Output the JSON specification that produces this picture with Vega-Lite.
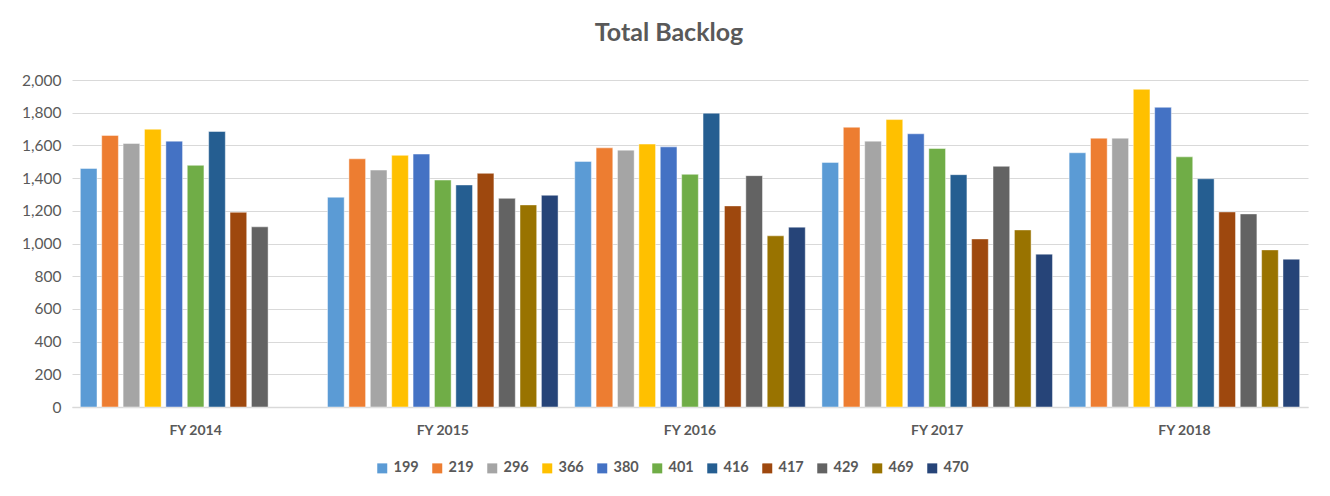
{
  "$schema": "https://vega.github.io/schema/vega-lite/v6.json",
  "width": 1236,
  "height": 327,
  "autosize": {"type": "none"},
  "padding": {"left": 72, "top": 80, "right": 22, "bottom": 89},
  "background": "white",
  "title": {
    "text": "Total Backlog",
    "font": "Lato",
    "fontSize": 25,
    "fontWeight": "bold",
    "color": "#595959",
    "offset": 27,
    "dx": -21
  },
  "data": {
    "values": [
      {"year": "FY 2014", "series": "199", "value": 1459},
      {"year": "FY 2014", "series": "219", "value": 1661},
      {"year": "FY 2014", "series": "296", "value": 1612},
      {"year": "FY 2014", "series": "366", "value": 1699},
      {"year": "FY 2014", "series": "380", "value": 1626},
      {"year": "FY 2014", "series": "401", "value": 1478},
      {"year": "FY 2014", "series": "416", "value": 1685},
      {"year": "FY 2014", "series": "417", "value": 1191},
      {"year": "FY 2014", "series": "429", "value": 1102},
      {"year": "FY 2015", "series": "199", "value": 1283},
      {"year": "FY 2015", "series": "219", "value": 1518},
      {"year": "FY 2015", "series": "296", "value": 1449},
      {"year": "FY 2015", "series": "366", "value": 1539},
      {"year": "FY 2015", "series": "380", "value": 1547},
      {"year": "FY 2015", "series": "401", "value": 1388},
      {"year": "FY 2015", "series": "416", "value": 1358},
      {"year": "FY 2015", "series": "417", "value": 1429},
      {"year": "FY 2015", "series": "429", "value": 1276},
      {"year": "FY 2015", "series": "469", "value": 1236},
      {"year": "FY 2015", "series": "470", "value": 1295},
      {"year": "FY 2016", "series": "199", "value": 1502},
      {"year": "FY 2016", "series": "219", "value": 1585},
      {"year": "FY 2016", "series": "296", "value": 1571},
      {"year": "FY 2016", "series": "366", "value": 1608},
      {"year": "FY 2016", "series": "380", "value": 1591},
      {"year": "FY 2016", "series": "401", "value": 1423},
      {"year": "FY 2016", "series": "416", "value": 1797},
      {"year": "FY 2016", "series": "417", "value": 1230},
      {"year": "FY 2016", "series": "429", "value": 1415},
      {"year": "FY 2016", "series": "469", "value": 1047},
      {"year": "FY 2016", "series": "470", "value": 1100},
      {"year": "FY 2017", "series": "199", "value": 1496},
      {"year": "FY 2017", "series": "219", "value": 1711},
      {"year": "FY 2017", "series": "296", "value": 1626},
      {"year": "FY 2017", "series": "366", "value": 1758},
      {"year": "FY 2017", "series": "380", "value": 1671},
      {"year": "FY 2017", "series": "401", "value": 1581},
      {"year": "FY 2017", "series": "416", "value": 1421},
      {"year": "FY 2017", "series": "417", "value": 1028},
      {"year": "FY 2017", "series": "429", "value": 1472},
      {"year": "FY 2017", "series": "469", "value": 1083},
      {"year": "FY 2017", "series": "470", "value": 935},
      {"year": "FY 2018", "series": "199", "value": 1555},
      {"year": "FY 2018", "series": "219", "value": 1644},
      {"year": "FY 2018", "series": "296", "value": 1644},
      {"year": "FY 2018", "series": "366", "value": 1943},
      {"year": "FY 2018", "series": "380", "value": 1833},
      {"year": "FY 2018", "series": "401", "value": 1530},
      {"year": "FY 2018", "series": "416", "value": 1396},
      {"year": "FY 2018", "series": "417", "value": 1193},
      {"year": "FY 2018", "series": "429", "value": 1181},
      {"year": "FY 2018", "series": "469", "value": 961},
      {"year": "FY 2018", "series": "470", "value": 904}
    ]
  },
  "mark": {"type": "bar", "stroke": "white", "strokeWidth": 0.75, "strokeOpacity": 0.6},
  "encoding": {
    "x": {
      "field": "year",
      "type": "nominal",
      "title": null,
      "scale": {"paddingInner": 0.05, "paddingOuter": 0.025},
      "axis": {
        "labelAngle": 0,
        "labelFont": "Lato",
        "labelFontSize": 14,
        "labelFontWeight": "bold",
        "labelColor": "#595959",
        "labelPadding": 16,
        "ticks": false,
        "domainColor": "#D9D9D9",
        "domainWidth": 1.5
      }
    },
    "xOffset": {
      "field": "series",
      "type": "nominal",
      "scale": {
        "domain": ["199", "219", "296", "366", "380", "401", "416", "417", "429", "469", "470"],
        "paddingInner": 0.22,
        "paddingOuter": 0.1
      }
    },
    "y": {
      "field": "value",
      "type": "quantitative",
      "title": null,
      "scale": {"domain": [0, 2000]},
      "axis": {
        "values": [0, 200, 400, 600, 800, 1000, 1200, 1400, 1600, 1800, 2000],
        "format": ",.0f",
        "labelFont": "Lato",
        "labelFontSize": 15.5,
        "labelColor": "#595959",
        "labelPadding": 11,
        "ticks": false,
        "domain": false,
        "gridColor": "#D9D9D9",
        "gridWidth": 1
      }
    },
    "color": {
      "field": "series",
      "type": "nominal",
      "title": null,
      "scale": {
        "domain": ["199", "219", "296", "366", "380", "401", "416", "417", "429", "469", "470"],
        "range": ["#5B9BD5", "#ED7D31", "#A5A5A5", "#FFC000", "#4472C4", "#70AD47", "#255E91", "#9E480E", "#636363", "#997300", "#264478"]
      },
      "legend": {
        "orient": "none",
        "direction": "horizontal",
        "legendX": 303,
        "legendY": 381,
        "symbolType": "square",
        "symbolSize": 100,
        "symbolStrokeWidth": 0,
        "labelFont": "Lato",
        "labelFontSize": 14.5,
        "labelFontWeight": "bold",
        "labelColor": "#595959",
        "labelOffset": 4,
        "columnPadding": 11
      }
    }
  },
  "config": {"view": {"stroke": null}}
}
